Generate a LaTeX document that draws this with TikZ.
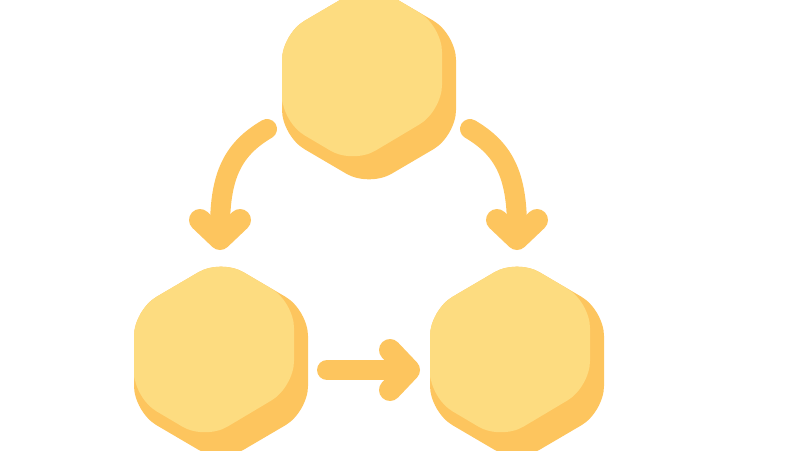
\documentclass[tikz,border=0pt]{standalone}
\usetikzlibrary{arrows.meta}
\definecolor{honeylight}{HTML}{FDDC80}
\definecolor{honeydark}{HTML}{FDC55E}

\begin{document}
\begin{tikzpicture}[x=1pt, y=-1pt]
    % Define styles
    \tikzset{
        rim/.style={
            fill=honeydark,
            rounded corners=26pt
        },
        face/.style={
            fill=honeylight,
            rounded corners=26pt
        },
        flow/.style={
            draw=honeydark,
            line width=20pt,
            line cap=round,
            -{Straight Barb[round, length=19pt, width=40pt, line width=22pt]}
        }
    }

    % Canvas
    \clip (0,0) rectangle (800,450);

    % Cell centres
    \coordinate (hexTop) at (369,85);
    \coordinate (hexLeft) at (221,361);
    \coordinate (hexRight) at (517,361);

    % Hexagons: darker rim, lighter face on top
    \foreach \cell in {hexTop, hexLeft, hexRight} {
        \begin{scope}[shift={(\cell)}]
            \fill[rim] (-87,0) -- (-87,-51) -- (0,-102) -- (87,-51) -- (87,51) -- (0,102) -- (-87,51) -- cycle;
            \fill[face] (-87,0) -- (-87,-51) -- (0,-102) -- (73,-59) -- (73,26) -- (-16,79) -- (-87,37) -- cycle;
        \end{scope}
    }

    % Arrow ends
    \coordinate (leftFrom) at (267,129);
    \coordinate (leftTo) at (220,250);
    \coordinate (rightFrom) at (470,129);
    \coordinate (rightTo) at (517,250);
    \coordinate (baseFrom) at (327,370);
    \coordinate (baseTo) at (420,370);

    % Arrows
    \draw[flow] (leftFrom) .. controls (233,149) and (220,175) .. (leftTo);
    \draw[flow] (rightFrom) .. controls (504,149) and (517,175) .. (rightTo);
    \draw[flow] (baseFrom) -- (baseTo);

\end{tikzpicture}
\end{document}
